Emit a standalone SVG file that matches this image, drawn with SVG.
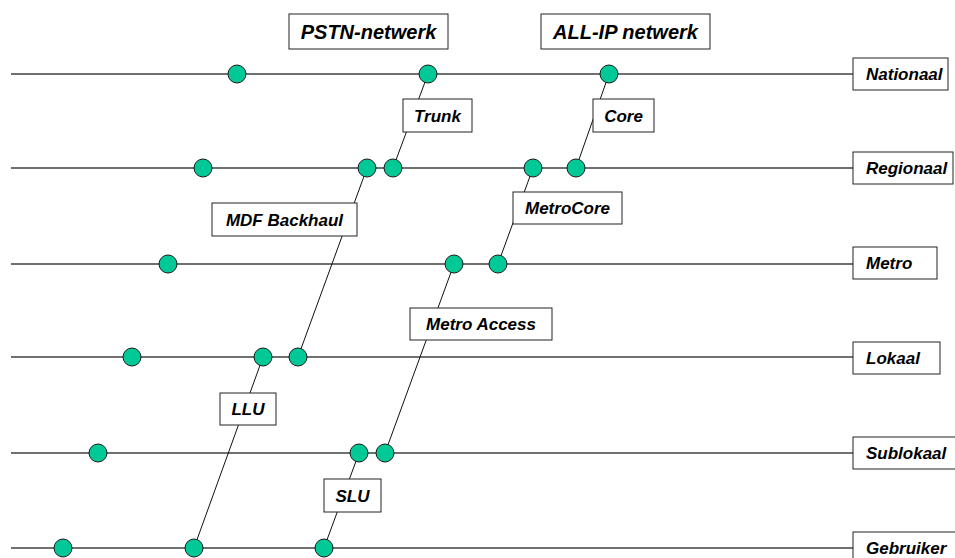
<svg xmlns="http://www.w3.org/2000/svg" width="955" height="558" viewBox="0 0 955 558">
  <style>
    .lvl { stroke: #404040; stroke-width: 1.3; fill: none; }
    .link { stroke: #111; stroke-width: 1; fill: none; }
    .pt { fill: #00C896; stroke: #1a1a1a; stroke-width: 1; }
    .box { fill: #fff; stroke: #222; stroke-width: 1; }
    .lbl { font-family: "Liberation Sans", Arial, sans-serif; font-weight: bold; font-style: italic; font-size: 17px; fill: #000; }
    .big { font-size: 20px; }
    .mid { text-anchor: middle; }
  </style>

  <!-- level lines and links between levels -->
  <g id="connectors">
    <line class="lvl" x1="11" y1="74" x2="853" y2="74"/>
    <line class="lvl" x1="11" y1="168" x2="853" y2="168"/>
    <line class="lvl" x1="11" y1="264" x2="853" y2="264"/>
    <line class="lvl" x1="11" y1="357" x2="853" y2="357"/>
    <line class="lvl" x1="11" y1="453" x2="853" y2="453"/>
    <line class="lvl" x1="11" y1="548" x2="853" y2="548"/>

    <line class="link" x1="428" y1="74" x2="393" y2="168"/>
    <line class="link" x1="609" y1="74" x2="576" y2="168"/>
    <line class="link" x1="367" y1="168" x2="298" y2="357"/>
    <line class="link" x1="533" y1="168" x2="498" y2="264"/>
    <line class="link" x1="454" y1="264" x2="385" y2="453"/>
    <line class="link" x1="263" y1="357" x2="194" y2="548"/>
    <line class="link" x1="359" y1="453" x2="324" y2="548"/>
  </g>

  <!-- network titles -->
  <g id="pstn">
    <rect class="box" x="289" y="14" width="159" height="35"/>
    <text class="lbl big mid" x="368.5" y="38.5">PSTN-netwerk</text>
  </g>
  <g id="allip">
    <rect class="box" x="541" y="14" width="169" height="35"/>
    <text class="lbl big mid" x="625.5" y="38.5">ALL-IP netwerk</text>
  </g>

  <!-- link labels -->
  <g id="trunk">
    <rect class="box" x="403" y="99" width="69" height="33"/>
    <text class="lbl mid" x="437.5" y="121.5">Trunk</text>
  </g>
  <g id="core">
    <rect class="box" x="593" y="99" width="61" height="33"/>
    <text class="lbl mid" x="623.5" y="121.5">Core</text>
  </g>
  <g id="mdf-backhaul">
    <rect class="box" x="212" y="203" width="145" height="33"/>
    <text class="lbl mid" x="284.5" y="225.5">MDF Backhaul</text>
  </g>
  <g id="metrocore">
    <rect class="box" x="513" y="192" width="109" height="32"/>
    <text class="lbl mid" x="567.5" y="214">MetroCore</text>
  </g>
  <g id="metro-access">
    <rect class="box" x="410" y="308" width="142" height="32"/>
    <text class="lbl mid" x="481" y="330">Metro Access</text>
  </g>
  <g id="llu">
    <rect class="box" x="220" y="393" width="56" height="32"/>
    <text class="lbl mid" x="248" y="415">LLU</text>
  </g>
  <g id="slu">
    <rect class="box" x="324" y="479" width="57" height="33"/>
    <text class="lbl mid" x="352.5" y="501.5">SLU</text>
  </g>

  <!-- level names -->
  <g id="nationaal">
    <rect class="box" x="853" y="58" width="95" height="32"/>
    <text class="lbl" x="866" y="80">Nationaal</text>
  </g>
  <g id="regionaal">
    <rect class="box" x="853" y="152" width="100" height="32"/>
    <text class="lbl" x="866" y="174">Regionaal</text>
  </g>
  <g id="metro">
    <rect class="box" x="853" y="247" width="84" height="32"/>
    <text class="lbl" x="866" y="269">Metro</text>
  </g>
  <g id="lokaal">
    <rect class="box" x="853" y="342" width="87" height="32"/>
    <text class="lbl" x="866" y="364">Lokaal</text>
  </g>
  <g id="sublokaal">
    <rect class="box" x="853" y="437" width="110" height="32"/>
    <text class="lbl" x="866" y="459">Sublokaal</text>
  </g>
  <g id="gebruiker">
    <rect class="box" x="853" y="532" width="110" height="32"/>
    <text class="lbl" x="866" y="554">Gebruiker</text>
  </g>

  <!-- nodes per level -->
  <g id="n-nat-1"><circle class="pt" cx="237" cy="74" r="9"/></g>
  <g id="n-nat-2"><circle class="pt" cx="428" cy="74" r="9"/></g>
  <g id="n-nat-3"><circle class="pt" cx="609" cy="74" r="9"/></g>

  <g id="n-reg-1"><circle class="pt" cx="203" cy="168" r="9"/></g>
  <g id="n-reg-2"><circle class="pt" cx="367" cy="168" r="9"/></g>
  <g id="n-reg-3"><circle class="pt" cx="393" cy="168" r="9"/></g>
  <g id="n-reg-4"><circle class="pt" cx="533" cy="168" r="9"/></g>
  <g id="n-reg-5"><circle class="pt" cx="576" cy="168" r="9"/></g>

  <g id="n-met-1"><circle class="pt" cx="168" cy="264" r="9"/></g>
  <g id="n-met-2"><circle class="pt" cx="454" cy="264" r="9"/></g>
  <g id="n-met-3"><circle class="pt" cx="498" cy="264" r="9"/></g>

  <g id="n-lok-1"><circle class="pt" cx="132" cy="357" r="9"/></g>
  <g id="n-lok-2"><circle class="pt" cx="263" cy="357" r="9"/></g>
  <g id="n-lok-3"><circle class="pt" cx="298" cy="357" r="9"/></g>

  <g id="n-sub-1"><circle class="pt" cx="98" cy="453" r="9"/></g>
  <g id="n-sub-2"><circle class="pt" cx="359" cy="453" r="9"/></g>
  <g id="n-sub-3"><circle class="pt" cx="385" cy="453" r="9"/></g>

  <g id="n-geb-1"><circle class="pt" cx="63" cy="548" r="9"/></g>
  <g id="n-geb-2"><circle class="pt" cx="194" cy="548" r="9"/></g>
  <g id="n-geb-3"><circle class="pt" cx="324" cy="548" r="9"/></g>
</svg>
